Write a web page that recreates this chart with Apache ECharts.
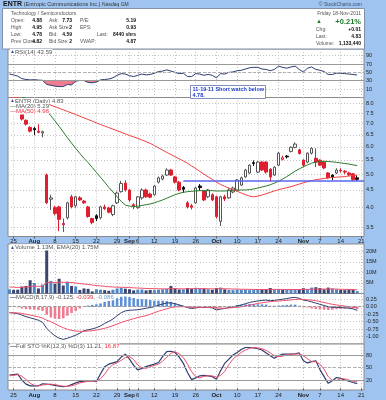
<!DOCTYPE html>
<html>
<head>
<meta charset="utf-8">
<script src="https://cdn.jsdelivr.net/npm/echarts@6.0.0/dist/echarts.min.js"></script>
<style>
html,body{margin:0;padding:0;background:#9fc4ef;overflow:hidden}
#c{width:386px;height:400px}
</style>
</head>
<body>
<div id="c"></div>
<script>
// ---------------- DATA ----------------
const dates = [
'2011-07-22','2011-07-25','2011-07-26','2011-07-27','2011-07-28','2011-07-29',
'2011-08-01','2011-08-02','2011-08-03','2011-08-04','2011-08-05',
'2011-08-08','2011-08-09','2011-08-10','2011-08-11','2011-08-12',
'2011-08-15','2011-08-16','2011-08-17','2011-08-18','2011-08-19',
'2011-08-22','2011-08-23','2011-08-24','2011-08-25','2011-08-26',
'2011-08-29','2011-08-30','2011-08-31','2011-09-01','2011-09-02',
'2011-09-06','2011-09-07','2011-09-08','2011-09-09',
'2011-09-12','2011-09-13','2011-09-14','2011-09-15','2011-09-16',
'2011-09-19','2011-09-20','2011-09-21','2011-09-22','2011-09-23',
'2011-09-26','2011-09-27','2011-09-28','2011-09-29','2011-09-30',
'2011-10-03','2011-10-04','2011-10-05','2011-10-06','2011-10-07',
'2011-10-10','2011-10-11','2011-10-12','2011-10-13','2011-10-14',
'2011-10-17','2011-10-18','2011-10-19','2011-10-20','2011-10-21',
'2011-10-24','2011-10-25','2011-10-26','2011-10-27','2011-10-28',
'2011-10-31','2011-11-01','2011-11-02','2011-11-03','2011-11-04',
'2011-11-07','2011-11-08','2011-11-09','2011-11-10','2011-11-11',
'2011-11-14','2011-11-15','2011-11-16','2011-11-17','2011-11-18'];

const opens = [
8.90,8.95,8.80,7.50,7.16,6.83,6.78,6.66,6.58,4.97,
4.23,4.00,4.02,3.60,3.74,4.30,4.05,4.27,4.18,4.02,
3.72,3.79,3.74,4.02,3.99,3.82,4.13,4.45,4.71,4.50,
4.08,4.00,4.27,4.50,4.38,4.36,4.74,4.84,4.97,5.14,
4.91,4.74,4.58,4.13,4.05,4.13,4.62,4.47,4.30,4.36,
4.30,3.65,4.30,4.27,4.44,4.50,4.65,4.91,5.04,5.40,
5.07,5.42,5.42,5.17,4.97,5.31,5.52,5.64,5.82,5.98,
5.88,5.49,5.42,5.75,5.56,5.49,5.42,5.04,4.97,5.04,
5.13,5.10,5.04,5.01,4.88];
const closes = [
8.95,8.80,8.70,7.22,6.98,6.66,6.72,6.61,6.64,4.13,
4.27,3.85,3.70,3.57,4.13,4.02,4.30,4.21,4.13,3.77,
3.62,3.72,4.02,3.97,3.88,4.05,4.41,4.70,4.50,4.21,
4.05,4.30,4.50,4.30,4.29,4.62,4.88,4.94,5.14,4.97,
4.74,4.50,4.52,4.02,4.01,4.56,4.57,4.21,4.50,4.21,
3.77,4.30,4.24,4.50,4.56,4.81,4.88,5.14,5.31,5.37,
5.42,5.14,5.07,4.91,5.24,5.75,5.58,5.61,5.98,6.11,
5.74,5.31,5.75,5.94,5.42,5.31,5.21,4.88,4.91,5.14,
5.11,5.07,4.98,4.82,4.83];
const lows = [
8.80,8.70,8.60,7.15,6.92,6.61,6.48,6.57,6.39,4.10,
3.94,3.80,3.42,3.40,3.70,3.98,4.00,4.18,4.10,3.74,
3.58,3.66,3.70,3.94,3.85,3.78,4.10,4.42,4.45,4.16,
3.96,3.97,4.22,4.27,4.26,4.33,4.70,4.80,4.94,4.94,
4.70,4.46,4.42,3.98,3.95,4.10,4.48,4.18,4.26,4.18,
3.72,3.54,4.18,4.24,4.40,4.46,4.62,4.88,5.00,5.28,
5.04,5.10,5.02,4.76,4.94,5.28,5.48,5.55,5.78,5.95,
5.70,5.24,5.38,5.70,5.24,5.28,5.17,4.84,4.80,5.00,
5.05,5.00,4.94,4.78,4.78];
const highs = [
9.05,9.00,8.90,7.60,7.20,6.88,6.86,6.97,6.68,5.02,
4.36,4.05,4.05,3.72,4.16,4.36,4.33,4.32,4.21,4.05,
3.74,3.83,4.05,4.08,4.02,4.08,4.45,4.78,4.80,4.52,
4.12,4.32,4.55,4.54,4.42,4.65,4.92,4.98,5.20,5.18,
4.94,4.78,4.62,4.18,4.10,4.60,4.68,4.50,4.53,4.40,
4.33,4.33,4.36,4.55,4.60,4.84,4.92,5.18,5.34,5.48,
5.45,5.46,5.45,5.20,5.27,5.80,5.65,5.68,6.02,6.18,
5.92,5.52,5.78,5.98,5.94,5.52,5.45,5.07,5.00,5.20,
5.20,5.14,5.08,5.04,4.95];

const ma20 = [
8.55,8.50,8.45,8.37,8.28,8.18,8.08,7.97,7.85,7.62,
7.38,7.13,6.88,6.62,6.38,6.15,5.94,5.74,5.56,5.40,
5.23,5.06,4.90,4.74,4.58,4.44,4.30,4.17,4.07,4.04,
4.03,4.04,4.06,4.08,4.10,4.13,4.17,4.21,4.26,4.31,
4.36,4.40,4.43,4.45,4.46,4.47,4.48,4.48,4.48,4.48,
4.47,4.47,4.47,4.48,4.48,4.49,4.50,4.50,4.51,4.53,
4.56,4.59,4.62,4.66,4.71,4.77,4.84,4.92,5.01,5.10,
5.18,5.25,5.32,5.38,5.42,5.44,5.45,5.44,5.43,5.41,
5.39,5.37,5.35,5.32,5.29];
const ma50 = [
8.38,8.35,8.32,8.27,8.22,8.18,8.14,8.10,8.07,8.00,
7.92,7.84,7.76,7.68,7.60,7.52,7.44,7.36,7.28,7.20,
7.12,7.04,6.96,6.89,6.82,6.75,6.68,6.61,6.54,6.47,
6.41,6.35,6.28,6.21,6.14,6.05,5.96,5.87,5.78,5.70,
5.62,5.54,5.46,5.38,5.28,5.19,5.09,5.00,4.91,4.83,
4.74,4.67,4.61,4.56,4.51,4.46,4.41,4.36,4.32,4.30,
4.32,4.35,4.39,4.43,4.47,4.51,4.54,4.57,4.60,4.64,
4.68,4.72,4.76,4.79,4.82,4.84,4.86,4.88,4.89,4.90,
4.91,4.92,4.94,4.95,4.96];

const rsi14 = [
46,44,41,35,33,32,32.5,31.5,31,21,
19,17,16,16,21,20,29,30.5,30.5,26,
25,27,32,33,34,37,43,47,46,42,
40,43,46,44,45,48,52,53,56,53,
50,47,48,40,40,47,46,43,45,43,
37,47,46,50,51,54,55,58,61,62,
62,58,57,54,57,65,62,60,63,65,
57,51,60,63,57,55,52,45,45,48,
48,47,46,45,43.59];

const volumeM = [
2.0,1.7,1.8,3.3,3.6,6.3,5.0,2.4,4.2,20.5,
6.0,4.6,7.0,3.8,5.6,3.6,3.3,1.7,2.4,2.2,
1.0,2.0,1.8,1.6,1.3,1.8,2.4,2.6,2.3,2.0,
1.5,1.8,1.9,1.5,1.7,1.6,1.8,2.0,2.2,3.6,
2.5,1.9,2.0,2.6,2.3,2.7,2.5,2.3,2.0,1.8,
2.6,2.8,2.0,1.7,1.6,1.8,1.7,1.8,1.6,1.7,
1.9,1.8,2.0,2.6,1.8,2.1,1.7,1.9,1.8,2.0,
1.8,2.5,2.0,2.8,3.0,2.6,2.0,2.8,2.4,2.0,
1.7,1.6,1.8,2.0,1.13];
const volumeEmaM = [
3.1,3.0,2.9,2.95,3.0,3.3,3.5,3.4,3.5,5.1,
5.2,5.2,5.4,5.3,5.3,5.2,5.0,4.7,4.5,4.3,
4.0,3.8,3.6,3.4,3.2,3.1,3.0,2.95,2.9,2.8,
2.7,2.6,2.5,2.4,2.35,2.3,2.25,2.2,2.2,2.3,
2.3,2.25,2.2,2.25,2.25,2.3,2.3,2.3,2.25,2.2,
2.25,2.3,2.25,2.2,2.1,2.1,2.0,2.0,1.95,1.9,
1.9,1.9,1.9,1.95,1.95,1.95,1.9,1.9,1.9,1.9,
1.9,1.95,1.95,2.0,2.1,2.1,2.1,2.15,2.15,2.1,
2.0,1.95,1.9,1.85,1.75];

const macdLine = [
-0.20,-0.21,-0.23,-0.28,-0.33,-0.37,-0.41,-0.45,-0.52,-0.72,
-0.86,-0.97,-1.05,-1.09,-1.05,-1.00,-0.95,-0.88,-0.80,-0.77,
-0.74,-0.70,-0.64,-0.56,-0.49,-0.41,-0.30,-0.20,-0.14,-0.12,
-0.11,-0.10,-0.08,-0.05,-0.03,0.00,0.05,0.09,0.12,0.13,
0.10,0.06,0.02,-0.03,-0.06,-0.04,-0.02,-0.03,-0.02,-0.04,
-0.11,-0.08,-0.06,-0.03,-0.01,0.03,0.06,0.10,0.14,0.17,
0.19,0.21,0.22,0.20,0.21,0.23,0.25,0.27,0.30,0.31,
0.28,0.22,0.20,0.16,0.12,0.08,0.04,0.00,-0.02,-0.02,
-0.03,-0.04,-0.05,-0.07,-0.125];
const macdSignal = [
-0.19,-0.20,-0.21,-0.22,-0.25,-0.28,-0.31,-0.34,-0.38,-0.45,
-0.50,-0.57,-0.64,-0.70,-0.75,-0.79,-0.81,-0.82,-0.82,-0.81,
-0.80,-0.78,-0.75,-0.72,-0.68,-0.63,-0.58,-0.53,-0.48,-0.44,
-0.40,-0.36,-0.33,-0.30,-0.25,-0.20,-0.15,-0.11,-0.07,-0.03,
-0.01,0.00,0.00,-0.01,-0.02,-0.02,-0.02,-0.02,-0.02,-0.02,
-0.04,-0.05,-0.05,-0.04,-0.03,-0.02,0.00,0.02,0.05,0.08,
0.11,0.13,0.15,0.17,0.18,0.19,0.20,0.21,0.23,0.24,
0.25,0.24,0.23,0.22,0.20,0.17,0.14,0.11,0.08,0.06,
0.04,0.02,0.00,-0.02,-0.039];

const stoK = [
32,33,34,20,10,6,6,6,11,10,
9,7,5,4,5,9,13,16,17,18,
18,16,35,52,58,61,64,75,82,70,
55,44,48,52,55,58,62,76,88,89,
86,75,60,38,21,25,30,31,30,28,
22,42,60,70,80,86,93,98,98,97,
95,92,85,78,72,78,82,82,82,83,
85,66,61,64,66,45,28,12,18,26,
24,20,17,14,11.21];
const stoD = [
30,31,33,29,21,12,7,6,8,9,
10,9,7,5,5,6,9,13,15,17,
18,17,23,34,48,57,61,67,74,76,
69,56,49,48,52,55,58,65,75,84,
88,83,74,58,40,28,25,29,30,30,
27,31,41,57,70,79,86,92,96,98,
97,95,91,85,78,76,77,81,82,82,
83,78,71,64,64,58,46,28,19,19,
23,23,20,17,16.87];

const tickDates  = ['2011-07-25','2011-08-01','2011-08-08','2011-08-15','2011-08-22','2011-08-29','2011-09-01','2011-09-06','2011-09-12','2011-09-19','2011-09-26','2011-10-03','2011-10-10','2011-10-17','2011-10-24','2011-11-01','2011-11-07','2011-11-14','2011-11-21'];
const tickLabels = ['25','Aug','8','15','22','29','Sep','6','12','19','26','Oct','10','17','24','Nov','7','14','21'];
const priceTicks = [3.5,4.0,4.5,5.0,5.5,6.0,6.5,7.0,7.5,8.0];
const rsiTicks = [10,30,50,70,90];
const volTicks = [5,10,15,20];
const macdTicks = [-1.00,-0.75,-0.50,-0.25,0.00,0.25];
const stoTicks = [20,50,80];
const alertLevel = 4.78;
const alertFromDate = '2011-09-21';

// ---------------- CHART ----------------
const FONT = '"Liberation Sans", Arial, sans-serif';
const BLUE_BG = '#9fc4ef';
const RED = '#dd1f2f';
const NAVY = '#2d3d70';
const PINKRED = '#f0506a';
const GRIDC = '#c2c2c2';

const axisDates = dates.concat(['2011-11-21']);
const tickIdx = tickDates.map(d => axisDates.indexOf(d));
const labelByIdx = {};
tickIdx.forEach((k, j) => { labelByIdx[k] = tickLabels[j]; });
const X_MIN = -0.35, X_MAX = 85.64;

const gridDefs = [
  {top: 49, height: 48.5},
  {top: 97.5, height: 139},
  {top: 244, height: 49.5},
  {top: 293.5, height: 50.5},
  {top: 344, height: 46}
];
const grids = gridDefs.map(g => Object.assign({
  left: 8, right: 22, show: true, backgroundColor: '#fff',
  borderColor: '#8a8a8a', borderWidth: 1, containLabel: false, outerBoundsMode: 'none'
}, g));

function xAx(gi, showLabels) {
  return {
    type: 'value', gridIndex: gi, min: X_MIN, max: X_MAX,
    axisLine: {show: false},
    axisTick: {show: showLabels, customValues: tickIdx, length: 2, lineStyle: {color: '#555'}},
    axisLabel: {
      show: showLabels, customValues: tickIdx, fontSize: 6, color: '#222', margin: 2, fontFamily: FONT,
      formatter: v => { const t = labelByIdx[Math.round(v)] || ''; return /^[A-Z]/.test(t) ? '{m|' + t + '}' : t; },
      rich: {m: {fontWeight: 'bold', fontSize: 6, fontFamily: FONT, color: '#222'}}
    },
    splitLine: {show: true, lineStyle: {color: GRIDC, type: [1, 2], width: 1}}
  };
}
function yAx(gi, min, max, ticks, fmt) {
  return {
    type: 'value', gridIndex: gi, position: 'right', min: min, max: max,
    axisLine: {show: false},
    axisTick: {show: false, customValues: ticks},
    axisLabel: {customValues: ticks, formatter: fmt, fontSize: 5.5, color: '#222', margin: 2, fontFamily: FONT},
    splitLine: {show: true, lineStyle: {color: GRIDC, type: [1, 2], width: 1}}
  };
}

const PMIN = 3.30, PMAX = 8.336;
const yAxes = [
  yAx(0, -10.2, 106, rsiTicks, v => String(Math.round(v))),
  {type: 'log', gridIndex: 1, min: PMIN, max: PMAX, show: false},
  yAx(1, Math.log(PMIN), Math.log(PMAX), priceTicks.map(Math.log), v => Math.exp(v).toFixed(1)),
  yAx(2, 0, 23.5, volTicks, v => Math.round(v) + 'M'),
  yAx(3, -1.243, 0.44, macdTicks, v => v.toFixed(2)),
  yAx(4, -4, 106.4, stoTicks, v => String(Math.round(v)))
];

function pairs(arr) { return arr.map((v, k) => [k, v]); }
function hline(val, color, type) { return {yAxis: val, lineStyle: {color: color, type: type, width: 1}}; }
const mlBase = {silent: true, symbol: ['none', 'none'], label: {show: false}, animation: false};

const candleData = dates.map((d, k) => {
  const o = opens[k], c = closes[k], l = lows[k], h = highs[k];
  const prev = k > 0 ? closes[k - 1] : c;
  const col = c >= prev ? '#111' : RED;
  const hollow = c > o;
  const st = hollow
    ? {color: '#fff', color0: '#fff', borderColor: c >= prev ? '#555' : RED, borderColor0: c >= prev ? '#555' : RED}
    : {color: col, color0: col, borderColor: col, borderColor0: col};
  return {value: [k, o, c, l, h], itemStyle: st};
});
const volData = volumeM.map((v, k) => {
  const up = k === 0 ? true : closes[k] >= closes[k - 1];
  return {value: [k, v], itemStyle: {color: up ? '#4f86c6' : '#3a4670'}};
});
const histData = macdLine.map((m, k) => {
  const h = m - macdSignal[k];
  return {value: [k, h], itemStyle: {color: h >= 0 ? '#5b8fd8' : '#f07a90'}};
});
const alertK = dates.indexOf(alertFromDate);

const lineBase = {type: 'line', symbol: 'none', showSymbol: false, animation: false, silent: true};

const series = [
  Object.assign({}, lineBase, {name: 'rsiFill', xAxisIndex: 0, yAxisIndex: 0,
    data: rsi14.map((v, k) => [k, Math.min(v, 30)]), lineStyle: {width: 0},
    areaStyle: {color: '#f17c92', origin: 30, opacity: 1}}),
  Object.assign({}, lineBase, {name: 'rsi', xAxisIndex: 0, yAxisIndex: 0, data: pairs(rsi14),
    lineStyle: {color: NAVY, width: 1},
    markLine: Object.assign({}, mlBase, {data: [hline(70, '#9a9a9a', 'solid'), hline(30, '#9a9a9a', 'solid'), hline(50, '#b0b0b0', [3, 2])]})}),
  {type: 'candlestick', name: 'ENTR', xAxisIndex: 1, yAxisIndex: 1, data: candleData,
    encode: {x: 0, y: [1, 2, 3, 4]}, barWidth: 3, clip: true, animation: false, silent: true,
    itemStyle: {borderWidth: 1}},
  Object.assign({}, lineBase, {name: 'ma20', xAxisIndex: 1, yAxisIndex: 1, data: pairs(ma20), lineStyle: {color: '#2a7a2a', width: 1}}),
  Object.assign({}, lineBase, {name: 'ma50', xAxisIndex: 1, yAxisIndex: 1, data: pairs(ma50), lineStyle: {color: '#f24040', width: 1}}),
  Object.assign({}, lineBase, {name: 'alert', xAxisIndex: 1, yAxisIndex: 1, data: [[alertK, alertLevel], [X_MAX, alertLevel]], lineStyle: {color: '#5a64f0', width: 1.5}, z: 5}),
  {type: 'bar', name: 'vol', xAxisIndex: 2, yAxisIndex: 3, data: volData, barWidth: 3, animation: false, silent: true},
  Object.assign({}, lineBase, {name: 'volEma', xAxisIndex: 2, yAxisIndex: 3, data: pairs(volumeEmaM), lineStyle: {color: PINKRED, width: 1}}),
  {type: 'bar', name: 'hist', xAxisIndex: 3, yAxisIndex: 4, data: histData, barWidth: 2.5, animation: false, silent: true},
  Object.assign({}, lineBase, {name: 'macd', xAxisIndex: 3, yAxisIndex: 4, data: pairs(macdLine), lineStyle: {color: NAVY, width: 1},
    markLine: Object.assign({}, mlBase, {data: [hline(0, '#9a9a9a', [3, 2])]})}),
  Object.assign({}, lineBase, {name: 'signal', xAxisIndex: 3, yAxisIndex: 4, data: pairs(macdSignal), lineStyle: {color: PINKRED, width: 1}}),
  Object.assign({}, lineBase, {name: 'stoK', xAxisIndex: 4, yAxisIndex: 5, data: pairs(stoK), lineStyle: {color: NAVY, width: 1.2},
    markLine: Object.assign({}, mlBase, {data: [hline(80, '#9a9a9a', 'solid'), hline(20, '#9a9a9a', 'solid'), hline(50, '#b0b0b0', [3, 2])]})}),
  Object.assign({}, lineBase, {name: 'stoD', xAxisIndex: 4, yAxisIndex: 5, data: pairs(stoD), lineStyle: {color: PINKRED, width: 1}})
];

// ---------------- TEXT ----------------
function T(x, y, text, opt) {
  return {type: 'text', x: x, y: y, z: 100, silent: true,
    style: Object.assign({text: text, fill: '#333', font: '6px ' + FONT, align: 'left', verticalAlign: 'middle'}, opt || {})};
}
const last = a => a[a.length - 1];
const richLegend = {
  i: {fill: '#3a5a9a', fontSize: 5, fontFamily: FONT},
  t: {fill: '#555', fontSize: 6, fontFamily: FONT},
  g: {fill: '#2a7a2a', fontSize: 6, fontFamily: FONT},
  r: {fill: '#e83040', fontSize: 6, fontFamily: FONT},
  n: {fill: NAVY, fontSize: 6, fontFamily: FONT, fontWeight: 'bold'},
  b: {fill: '#6a9ae0', fontSize: 6, fontFamily: FONT}
};
function L(x, y, text) { return T(x, y, text, {rich: richLegend, backgroundColor: '#fff'}); }

const rowsY = [20.6, 27.4, 34.4, 41.6];
const infoRows = [
  ['Open:', '4.88', 'Ask:', '7.73', 'P/E:', '5.19', 80],
  ['High:', '4.95', 'Ask Size:', '2', 'EPS:', '0.93', 80],
  ['Low:', '4.78', 'Bid:', '4.59', 'Last:', '8440 shrs', 97],
  ['Prev Close:', '4.82', 'Bid Size:', '2', 'VWAP:', '4.87', 80]
];
const LBL = {fill: '#555', font: '5px ' + FONT};
const VAL = {fill: '#111', font: 'bold 5px ' + FONT, align: 'right'};
const graphic = [
  T(3, 4.5, '{b|ENTR} {n|(Entropic Communications Inc.)} {s|Nasdaq GM}', {rich: {
    b: {fill: '#111', fontWeight: 'bold', fontSize: 7, fontFamily: FONT},
    n: {fill: '#333', fontSize: 5.5, fontFamily: FONT},
    s: {fill: '#333', fontSize: 5, fontFamily: FONT}}}),
  T(362, 4.5, '\u00A9 StockCharts.com', {fill: '#3c5070', font: '5px ' + FONT, align: 'right'}),
  {type: 'rect', z: 90, silent: true, shape: {x: 2.5, y: 8.5, width: 362, height: 40.5}, style: {fill: '#fff', stroke: '#8391a8', lineWidth: 1}},
  T(11, 13.6, 'Technology / Semiconductors', {fill: '#555', font: '5px ' + FONT})
];
infoRows.forEach((r, j) => {
  const y = rowsY[j];
  graphic.push(T(11, y, r[0], LBL), T(42, y, r[1], VAL),
               T(49, y, r[2], LBL), T(72, y, r[3], VAL),
               T(r[6], y, r[4], LBL), T(136, y, r[5], VAL));
});
graphic.push(
  T(361, 13.6, 'Friday 18-Nov-2011', {fill: '#555', font: '5px ' + FONT, align: 'right'}),
  T(316, 21.5, '\u25B2', {fill: '#1f7a2a', font: '6px ' + FONT}),
  T(361, 21.5, '+0.21%', {fill: '#1f7a2a', font: 'bold 7.5px ' + FONT, align: 'right'}),
  T(316, 29.2, 'Chg:', LBL), T(361, 29.2, '+0.01', VAL),
  T(316, 36.2, 'Last:', LBL), T(361, 36.2, closes[closes.length - 1].toFixed(2), VAL),
  T(316, 43.4, 'Volume:', LBL), T(361, 43.4, '1,133,440', VAL),
  // legends
  L(10, 52, '{i|\u25B2}{t|RSI(14) ' + last(rsi14).toFixed(2) + '}'),
  L(10, 101, '{i|\u25B2}{t|ENTR (Daily) ' + last(closes).toFixed(2) + '}'),
  L(10, 106.3, '{g|\u2014}{t|MA(20) ' + last(ma20).toFixed(2) + '}'),
  L(10, 111.6, '{r|\u2014MA(50) ' + last(ma50).toFixed(2) + '}'),
  L(10, 247.3, '{i|\u25B2}{t|Volume ' + last(volumeM).toFixed(2) + 'M, EMA(20) ' + last(volumeEmaM).toFixed(2) + 'M}'),
  L(10, 297.3, '{n|\u2014}{t|MACD(8,17,9) ' + last(macdLine).toFixed(3) + ', }{r|' + last(macdSignal).toFixed(3) + '}{t|, }{b|' + (last(macdLine) - last(macdSignal)).toFixed(3) + '}'),
  L(10, 346.5, '{n|\u2014}{t|Full STO %K(12,3) %D(3) ' + last(stoK).toFixed(2) + ', }{r|' + last(stoD).toFixed(2) + '}'),
  // annotation
  {type: 'rect', z: 95, silent: true, shape: {x: 190.5, y: 85.5, width: 75, height: 13}, style: {fill: '#fff', stroke: '#7f8fb8', lineWidth: 1}},
  T(192.5, 89.3, '11-19-11 Short watch below', {fill: '#1a3acc', font: 'bold 5.5px ' + FONT}),
  T(192.5, 95.3, '4.78.', {fill: '#1a3acc', font: 'bold 5.5px ' + FONT})
);

const chart = echarts.init(document.getElementById('c'), null, {renderer: 'canvas', width: 386, height: 400});
chart.setOption({
  backgroundColor: BLUE_BG,
  animation: false,
  textStyle: {fontFamily: FONT},
  grid: grids,
  xAxis: [xAx(0, false), xAx(1, true), xAx(2, false), xAx(3, false), xAx(4, true)],
  yAxis: yAxes,
  series: series,
  graphic: graphic
});
</script>
</body>
</html>
